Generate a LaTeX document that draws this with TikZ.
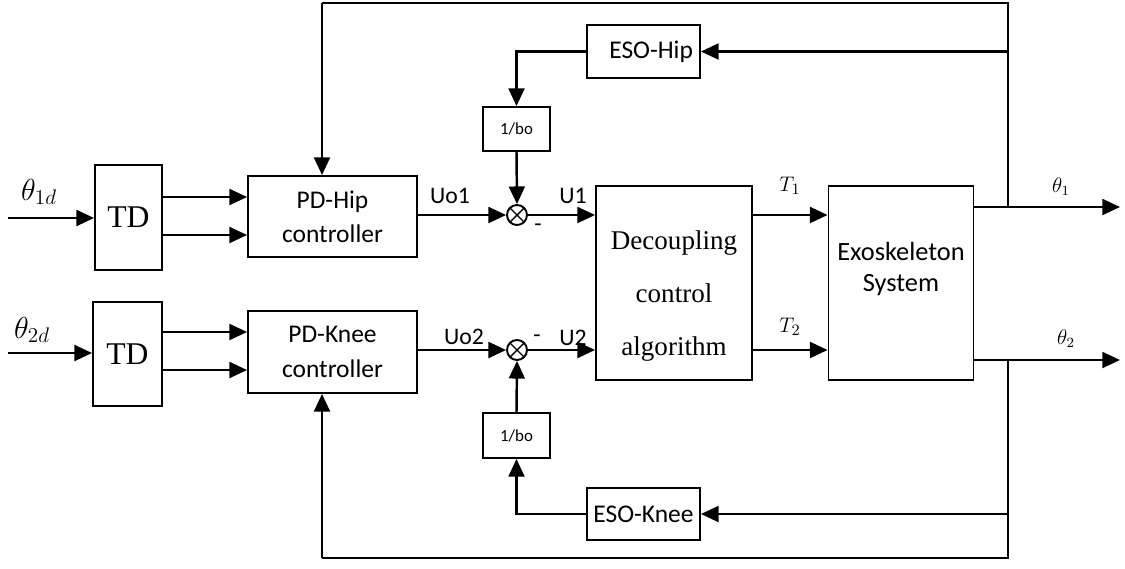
\documentclass[tikz,border=0pt]{standalone}
\usepackage{fontspec}
\setmainfont{Liberation Serif}
\newfontfamily\carl{Carlito}
\usetikzlibrary{arrows.meta,calc}
\begin{document}
\begin{tikzpicture}[x=0.02cm,y=-0.02cm,
  blk/.style={draw,line width=1.1pt,inner sep=0pt,align=center},
  arr/.style={line width=1.4pt,-{Triangle[length=10pt,width=9pt]}},
  ln/.style={line width=1.4pt},
  sumn/.style={draw,circle,line width=1.1pt,minimum size=0.4cm,inner sep=0pt,
    path picture={\draw[line width=0.8pt] (path picture bounding box.north west)--(path picture bounding box.south east)
      (path picture bounding box.north east)--(path picture bounding box.south west);}},
  sl/.style={font=\carl\fontsize{13.5}{15}\selectfont},
]
\useasboundingbox (0,0) rectangle (1125,568);
% blocks
\node[blk,minimum width=1.34cm,minimum height=2.1cm,font=\fontsize{18}{20}\selectfont] (td1) at (128.5,217.5) {TD};
\node[blk,minimum width=1.38cm,minimum height=2.08cm,font=\fontsize{18}{20}\selectfont] (td2) at (127.5,354) {TD};
\node[blk,minimum width=3.38cm,minimum height=1.62cm,font=\carl\fontsize{14.5}{19.5}\selectfont] (pdh) at (332.5,216.5) {PD-Hip\\controller};
\node[blk,minimum width=3.38cm,minimum height=1.64cm,font=\carl\fontsize{14.5}{19.5}\selectfont] (pdk) at (332.5,352) {PD-Knee\\controller};
\node[sumn] (s1) at (517,215) {};
\node[sumn] (s2) at (517,350) {};
\node[blk,minimum width=3.12cm,minimum height=3.88cm] (dec) at (674,283) {};
\node[align=center,font=\fontsize{15.4}{30}\selectfont] (dect) at (674,296) {Decoupling\\control\\algorithm};
\node[blk,minimum width=2.9cm,minimum height=3.88cm] (exo) at (901,283) {};
\node[align=center,font=\carl\fontsize{15}{18}\selectfont] (exot) at (901,269) {Exoskeleton\\System};
\node[blk,minimum width=2.26cm,minimum height=1.06cm,font=\carl\fontsize{14.5}{17}\selectfont] (esoh) at (643.5,51.5) {\hspace*{0.6em}ESO-Hip};
\node[blk,minimum width=2.26cm,minimum height=1.04cm,font=\carl\fontsize{14.5}{17}\selectfont] (esok) at (643.5,514) {ESO-Knee};
\node[blk,minimum width=1.34cm,minimum height=0.88cm,font=\carl\fontsize{9.6}{11}\selectfont] (bo1) at (516.5,129) {1/bo};
\node[blk,minimum width=1.34cm,minimum height=0.9cm,font=\carl\fontsize{9.6}{11}\selectfont] (bo2) at (516.5,435.5) {1/bo};
% coordinates
\coordinate (in1) at (8,218);
\coordinate (in2) at (8,353);
\coordinate (o1) at (1120,207);
\coordinate (o2) at (1120,360);
\coordinate (j1) at (1008,207);
\coordinate (j2) at (1008,360);
\coordinate (tr) at (1008,3);
\coordinate (tl) at (322,3);
\coordinate (br) at (1008,558);
\coordinate (bl) at (322,558);
% inputs
\draw[arr] (in1) -- (in1 -| td1.west);
\draw[arr] (in2) -- (in2 -| td2.west);
\draw[arr] ($(td1.east)+(0,-20.5)$) -- ($(td1.east -| pdh.west)+(0,-20.5)$);
\draw[arr] ($(td1.east)+(0,17.5)$) -- ($(td1.east -| pdh.west)+(0,17.5)$);
\draw[arr] ($(td2.east)+(0,-22)$) -- ($(td2.east -| pdk.west)+(0,-22)$);
\draw[arr] ($(td2.east)+(0,16)$) -- ($(td2.east -| pdk.west)+(0,16)$);
% controller to sums
\draw[arr] (pdh.east |- s1) -- (s1.west);
\draw[arr] (pdk.east |- s2) -- (s2.west);
\draw[arr] (s1.east) -- (s1 -| dec.west);
\draw[arr] (s2.east) -- (s2 -| dec.west);
% decoupling to exo
\draw[arr] (dec.east |- s1) -- (s1 -| exo.west);
\draw[arr] (dec.east |- s2) -- (s2 -| exo.west);
% outputs
\draw[arr] (j1 -| exo.east) -- (o1);
\draw[arr] (j2 -| exo.east) -- (o2);
% feedback
\draw[ln] (j1) -- (tr) -- (tl);
\draw[arr] (tl) -- (tl |- pdh.north);
\draw[ln] (j2) -- (br) -- (bl);
\draw[arr] (bl) -- (bl |- pdk.south);
\draw[arr] (tr |- esoh) -- (esoh.east);
\draw[arr] (br |- esok) -- (esok.east);
\draw[arr] (esoh.west) -| (bo1.north);
\draw[arr] (esok.west) -| (bo2.south);
\draw[arr] (bo1.south) -- (s1.north);
\draw[arr] (bo2.north) -- (s2.south);
% labels
\node[font=\fontsize{17}{19}\selectfont] (l1d) at (39,192) {$\theta_{1d}$};
\node[font=\fontsize{17}{19}\selectfont] (l2d) at (32,330) {$\theta_{2d}$};
\node[sl] (luo1) at (450,196) {Uo1};
\node[sl] (lu1) at (573,196) {U1};
\node[sl] (lm1) at (538,228) {-};
\node[sl] (luo2) at (464,337) {Uo2};
\node[sl] (lm2) at (537,339) {-};
\node[sl] (lu2) at (573,338) {U2};
\node[font=\fontsize{13}{15}\selectfont] (lt1) at (790,186) {$T_1$};
\node[font=\fontsize{13}{15}\selectfont] (lt2) at (790,327) {$T_2$};
\node[font=\fontsize{12}{14}\selectfont] (lth1) at (1061,187) {$\theta_1$};
\node[font=\fontsize{12}{14}\selectfont] (lth2) at (1066,339) {$\theta_2$};
\end{tikzpicture}
\end{document}
